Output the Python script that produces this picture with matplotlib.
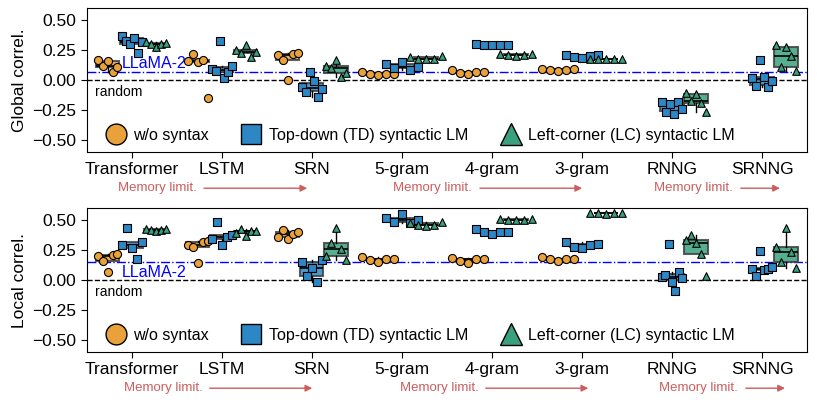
import matplotlib
matplotlib.use('Agg')
import matplotlib.pyplot as plt
import numpy as np
from matplotlib.lines import Line2D

plt.rcParams['font.family'] = ['Liberation Sans', 'DejaVu Sans']

models = ['Transformer', 'LSTM', 'SRN', '5-gram', '4-gram', '3-gram', 'RNNG', 'SRNNG']
hue_labels = ['w/o syntax', 'Top-down (TD) syntactic LM', 'Left-corner (LC) syntactic LM']

# ---- Global correlation ----
global_nosyn = {
    'Transformer': [0.17, 0.12, 0.16, 0.065, 0.11],
    'LSTM': [0.16, 0.22, 0.15, 0.165, -0.15],
    'SRN': [0.21, 0.165, 0.0, 0.22, 0.225],
    '5-gram': [0.065, 0.05, 0.04, 0.055, 0.055],
    '4-gram': [0.085, 0.06, 0.055, 0.065, 0.07],
    '3-gram': [0.095, 0.085, 0.078, 0.085, 0.09],
}
global_td = {
    'Transformer': [0.37, 0.33, 0.30, 0.355, 0.23, 0.315],
    'LSTM': [0.09, 0.075, 0.33, 0.015, 0.07, 0.115],
    'SRN': [-0.055, -0.10, 0.065, -0.01, -0.145, -0.075],
    '5-gram': [0.135, 0.105, 0.155, 0.085, 0.11],
    '4-gram': [0.305, 0.29, 0.29, 0.29, 0.295],
    '3-gram': [0.21, 0.195, 0.185, 0.205, 0.21],
    'RNNG': [-0.18, -0.27, -0.20, -0.28, -0.185, -0.24],
    'SRNNG': [0.015, -0.05, 0.17, 0.03, -0.06, -0.005],
}
global_lc = {
    'Transformer': [0.32, 0.30, 0.28, 0.30, 0.31],
    'LSTM': [0.25, 0.23, 0.29, 0.195, 0.235],
    'SRN': [0.115, 0.10, 0.165, 0.03, 0.06],
    '5-gram': [0.19, 0.175, 0.175, 0.175, 0.2],
    '4-gram': [0.22, 0.21, 0.20, 0.21, 0.22],
    '3-gram': [0.18, 0.175, 0.175, 0.175, 0.18],
    'RNNG': [-0.105, -0.175, -0.12, -0.19, -0.27],
    'SRNNG': [0.29, 0.11, 0.28, 0.2, 0.075],
}

# ---- Local correlation ----
local_nosyn = {
    'Transformer': [0.20, 0.16, 0.065, 0.21, 0.22],
    'LSTM': [0.29, 0.28, 0.145, 0.32, 0.33],
    'SRN': [0.365, 0.42, 0.345, 0.39, 0.40],
    '5-gram': [0.19, 0.165, 0.15, 0.18, 0.18],
    '4-gram': [0.185, 0.16, 0.145, 0.175, 0.175],
    '3-gram': [0.19, 0.175, 0.16, 0.18, 0.18],
}
local_td = {
    'Transformer': [0.29, 0.435, 0.27, 0.18, 0.315],
    'LSTM': [0.345, 0.49, 0.295, 0.365, 0.38],
    'SRN': [0.155, 0.035, 0.105, -0.015, 0.165],
    '5-gram': [0.52, 0.49, 0.55, 0.48, 0.50],
    '4-gram': [0.43, 0.40, 0.385, 0.40, 0.405],
    '3-gram': [0.32, 0.28, 0.265, 0.295, 0.30],
    'RNNG': [0.025, 0.045, 0.30, -0.015, -0.09, 0.065, 0.02],
    'SRNNG': [0.09, 0.035, 0.24, 0.085, 0.09, 0.11],
}
local_lc = {
    'Transformer': [0.43, 0.42, 0.41, 0.42, 0.43],
    'LSTM': [0.395, 0.43, 0.37, 0.41, 0.415],
    'SRN': [0.20, 0.31, 0.44, 0.26, 0.17],
    '5-gram': [0.475, 0.46, 0.455, 0.46, 0.49],
    '4-gram': [0.515, 0.50, 0.50, 0.50, 0.51],
    '3-gram': [0.565, 0.56, 0.555, 0.56, 0.565],
    'RNNG': [0.335, 0.38, 0.31, 0.22, 0.035],
    'SRNNG': [0.28, 0.15, 0.435, 0.235, 0.10],
}

llama_global = 0.07
llama_local = 0.15

colors = ['#E9A23B', '#2D87C4', '#3AA17E']
markers = ['o', 's', '^']
hue_offsets = [-0.267, 0.0, 0.267]
box_w = 0.26
ngram_models = ['5-gram', '4-gram', '3-gram']

fig = plt.figure(figsize=(8.17, 4.04), dpi=100)
ax1 = fig.add_axes([0.106, 0.6245, 0.882, 0.3545])
ax2 = fig.add_axes([0.106, 0.1295, 0.882, 0.3545])


def draw_panel(ax, series, llama, ylabel, llama_above, ann):
    for h, data in enumerate(series):
        for i, m in enumerate(models):
            if m not in data:
                continue
            vals = np.array(data[m])
            pos = i + hue_offsets[h]
            ax.boxplot([vals], positions=[pos], widths=box_w, whis=1.5,
                       showfliers=False, patch_artist=True, manage_ticks=False,
                       boxprops=dict(facecolor=colors[h], edgecolor=(0.25, 0.25, 0.25, 0.75),
                                     linewidth=1.5, alpha=0.85),
                       medianprops=dict(color='black', linewidth=1.2),
                       whiskerprops=dict(color='black', linewidth=1.0),
                       capprops=dict(linewidth=0), zorder=2)
            n = len(vals)
            spread = 0.178 if m in ngram_models else 0.11
            xs = pos + np.linspace(-spread, spread, n)
            ax.scatter(xs, vals, s=34 if markers[h] != '^' else 30, marker=markers[h],
                       facecolor=colors[h], edgecolor='black', linewidth=0.8, zorder=3)
    ax.axhline(0.0, color='black', linestyle='--', linewidth=1.0, zorder=1)
    ax.axhline(llama, color='blue', linestyle='-.', linewidth=1.0, zorder=1)
    if llama_above:
        ax.text(0.049, llama + 0.005, 'LLaMA-2', color='blue', fontsize=11.5,
                transform=ax.get_yaxis_transform(), ha='left', va='bottom')
    else:
        ax.text(0.049, llama - 0.02, 'LLaMA-2', color='blue', fontsize=11.5,
                transform=ax.get_yaxis_transform(), ha='left', va='top')
    ax.text(0.012, -0.04, 'random', color='black', fontsize=10,
            transform=ax.get_yaxis_transform(), ha='left', va='top')
    ax.set_xlim(-0.5, len(models) - 0.5)
    ax.set_ylim(-0.6, 0.6)
    ax.set_xticks(range(len(models)))
    ax.set_xticklabels(models, fontsize=12.5)
    ax.set_yticks([-0.5, -0.25, 0.0, 0.25, 0.5])
    ax.set_yticklabels(['\u22120.50', '\u22120.25', '0.00', '0.25', '0.50'], fontsize=12.5)
    ax.set_ylabel(ylabel, fontsize=12.5, labelpad=4)
    ax.tick_params(axis='both', length=4, width=0.8)
    for sp in ax.spines.values():
        sp.set_linewidth(0.8)

    handles = [Line2D([0], [0], marker=markers[h], linestyle='none', markersize=15 if h < 2 else 16,
                      markerfacecolor=colors[h], markeredgecolor='black', markeredgewidth=1.0)
               for h in range(3)]
    ax.legend(handles, hue_labels, loc='center left', bbox_to_anchor=(0.015, 0.115),
              ncol=3, frameon=False, fontsize=11.5, handletextpad=0.35, columnspacing=1.9,
              borderaxespad=0, handlelength=1.5)

    red = '#CD5C5C'
    for (tx_right, a0, a1) in ann:
        ax.text(tx_right, -0.255, 'Memory limit.', color=red, fontsize=9.5,
                transform=ax.transAxes, ha='right', va='center', clip_on=False)
        ax.annotate('', xy=(a1, -0.255), xytext=(a0, -0.255), xycoords='axes fraction',
                    textcoords='axes fraction',
                    arrowprops=dict(arrowstyle='-|>', color=red, lw=1.0, mutation_scale=10),
                    annotation_clip=False)


draw_panel(ax1, [global_nosyn, global_td, global_lc], llama_global, 'Global correl.', True,
           [(0.1528, 0.159, 0.310), (0.535, 0.542, 0.6915), (0.897, 0.904, 0.966)])
draw_panel(ax2, [local_nosyn, local_td, local_lc], llama_local, 'Local correl.', False,
           [(0.161, 0.167, 0.317), (0.544, 0.550, 0.700), (0.904, 0.911, 0.973)])

fig.savefig('out.png', dpi=100)
